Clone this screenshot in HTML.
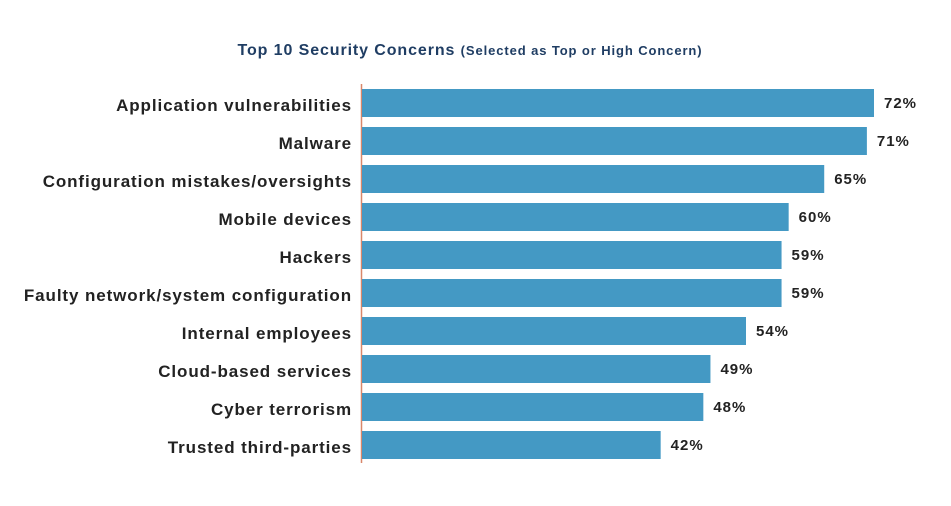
<!DOCTYPE html>
<html><head><meta charset="utf-8"><style>
body{margin:0;background:#fff;width:951px;height:501px;overflow:hidden;font-family:"Liberation Sans",sans-serif}
svg text{font-family:"Liberation Sans",sans-serif;font-weight:bold}
</style></head><body>
<svg id="chart" width="951" height="501">
<text x="470" y="55" text-anchor="middle" fill="#1f3d63" letter-spacing="0.9"><tspan font-size="16">Top 10 Security Concerns </tspan><tspan font-size="13">(Selected as Top or High Concern)</tspan></text>
<line x1="361.5" y1="84" x2="361.5" y2="463" stroke="#d9876a" stroke-width="1.5"/>
</svg>
<script>
const categories=["Application vulnerabilities","Malware","Configuration mistakes/oversights","Mobile devices","Hackers","Faulty network/system configuration","Internal employees","Cloud-based services","Cyber terrorism","Trusted third-parties"];
const values=[72,71,65,60,59,59,54,49,48,42];
const svg=document.getElementById('chart');
const NS='http://www.w3.org/2000/svg';
const x0=362, pxPer=512/72, top0=89, pitch=38, bh=28;
const xs=v=>x0+v*pxPer;
const ys=i=>top0+i*pitch;
categories.forEach((c,i)=>{
  const r=document.createElementNS(NS,'rect');
  r.setAttribute('x',x0);r.setAttribute('y',ys(i));r.setAttribute('width',xs(values[i])-x0);r.setAttribute('height',bh);r.setAttribute('fill','#4499c4');
  
  
  svg.appendChild(r);
  const t=document.createElementNS(NS,'text');
  t.setAttribute('x',352);t.setAttribute('y',ys(i)+bh/2+8);t.setAttribute('text-anchor','end');t.setAttribute('font-size','17');t.setAttribute('fill','#222');t.setAttribute('letter-spacing','0.9');
  t.textContent=c;
  
  
  svg.appendChild(t);
  const v=document.createElementNS(NS,'text');
  v.setAttribute('x',xs(values[i])+10);v.setAttribute('y',ys(i)+bh/2+5);v.setAttribute('font-size','15');v.setAttribute('fill','#222');v.setAttribute('letter-spacing','1');
  v.textContent=values[i]+'%';
  
  
  svg.appendChild(v);
});
</script>
</body></html>
